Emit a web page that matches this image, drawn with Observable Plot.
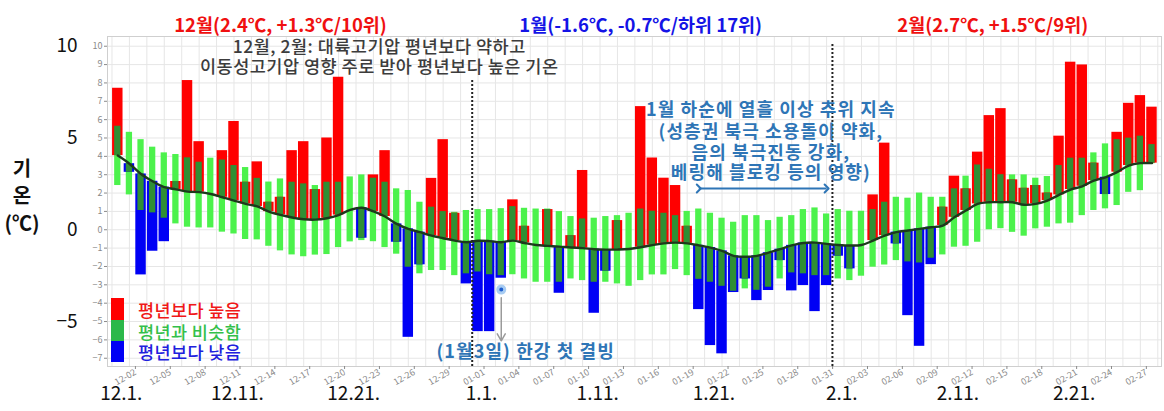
<!DOCTYPE html>
<html><head><meta charset="utf-8">
<script src="https://cdn.jsdelivr.net/npm/d3@7"></script>
<script src="https://cdn.jsdelivr.net/npm/@observablehq/plot@0.6"></script>
<style>
body{margin:0;background:#fff;font-family:"Noto Sans CJK KR","Noto Sans",sans-serif;}
#wrap{position:relative;width:1164px;height:411px;overflow:hidden;}
#wrap svg{position:absolute;left:0;top:0;}
#wrap svg g[fill="#2e75b6"] text{letter-spacing:1.1px;}
#wrap svg g[fill="#3c3c3c"] text{letter-spacing:0.5px;}
.box{position:absolute;width:13px;left:111px;}
.lt{position:absolute;left:138px;font-size:17.5px;font-weight:500;line-height:1;white-space:nowrap;transform:translateY(-50%);letter-spacing:0.4px;}
.yt{position:absolute;left:22px;font-size:20px;font-weight:bold;color:#111;line-height:1;transform:translate(-50%,-50%);}
</style></head><body>
<div id="wrap"></div>
<script>
// ---- categories (days Dec 1 – Feb 28) ----
const fmt = d3.utcFormat("%m-%d");
const dateLabels = d3.utcDay.range(new Date(Date.UTC(2022,11,1)), new Date(Date.UTC(2023,2,1))).map(fmt);

// ---- observed daily mean temperature (°C) ----
const obs = [7.71,3.13,-2.46,-1.17,-0.65,2.63,8.13,4.8,1.95,4.31,5.9,2.59,3.7,1.5,1.77,4.31,4.8,2.19,5.0,8.31,
 1.08,-0.46,2.99,4.31,-0.68,-5.86,-1.91,2.8,4.91,0.9,-2.95,
 -5.55,-5.55,-2.64,1.63,0.19,-0.83,1.1,-3.46,-0.32,3.23,-4.55,-2.26,0.5,-1.05,6.71,3.91,2.81,2.41,0.19,-4.35,
 -6.31,-6.76,-3.42,-2.68,-3.86,-3.31,-1.68,-3.33,-3.04,-4.46,-3.04,
 -1.44,-2.13,-0.83,1.9,4.72,-0.77,-4.68,-6.35,-1.9,1.23,2.92,2.23,4.23,6.22,6.6,2.72,2.26,2.41,2.0,5.1,
 9.13,8.98,3.63,1.92,5.31,6.89,7.31,6.68];
// ---- climatological normal (°C) ----
const normal = [4.04,3.6,3.04,2.64,2.32,2.2,2.08,2.05,1.95,1.77,1.59,1.41,1.27,0.99,0.81,0.67,0.57,0.55,0.63,0.8,
 1.08,1.2,1.0,0.72,0.32,0.05,-0.13,-0.32,-0.46,-0.59,-0.68,
 -0.6,-0.62,-0.68,-0.59,-0.72,-0.83,-0.88,-0.92,-0.97,-1.0,-1.06,-1.08,-1.08,-1.05,-0.95,-0.84,-0.74,-0.7,-0.74,-0.85,
 -0.97,-1.15,-1.42,-1.47,-1.42,-1.25,-1.06,-0.85,-0.72,-0.7,-0.77,
 -0.83,-0.86,-0.83,-0.59,-0.32,-0.13,-0.04,0.05,0.14,0.23,0.68,1.05,1.41,1.5,1.5,1.5,1.36,1.41,1.59,1.9,
 2.19,2.37,2.68,2.86,3.14,3.5,3.63,3.63];
// ---- normal range (similar-to-normal band) ----
const rangeLow = [2.41,1.9,1.05,0.92,0.63,0.32,0.14,0.1,0.1,-0.13,-0.23,-0.53,-0.55,-0.9,-1.15,-1.37,-1.47,-1.38,-1.35,-0.97,
 -0.66,-0.59,-0.65,-0.97,-1.33,-2.04,-2.4,-2.22,-2.22,-2.5,-2.4,
 -2.3,-2.45,-2.5,-2.45,-2.68,-2.86,-2.86,-2.86,-2.68,-2.77,-2.86,-2.86,-2.95,-3.08,-2.77,-2.46,-2.46,-2.17,-2.5,-2.7,
 -2.86,-3.08,-3.35,-3.22,-3.3,-3.13,-2.68,-2.35,-2.4,-2.5,-2.5,
 -2.68,-2.77,-2.53,-2.04,-1.92,-1.68,-1.75,-1.81,-1.55,-1.37,-0.95,-0.9,-0.68,0.0,0.06,-0.14,-0.35,0.05,0.14,0.32,
 0.36,0.77,1.05,1.14,1.32,2.04,2.13,3.6];
const rangeHigh = [5.64,5.31,4.91,4.5,4.19,4.1,3.92,3.68,3.9,3.8,3.5,3.39,2.8,2.6,2.77,2.59,2.5,2.41,2.59,2.59,
 2.88,2.99,2.81,2.59,2.23,2.14,1.5,1.23,0.99,0.95,1.05,
 1.1,1.1,1.15,1.26,1.17,1.13,1.13,0.99,0.72,0.59,0.63,0.72,0.77,0.9,1.13,1.01,0.9,0.77,1.0,1.13,
 0.9,0.63,0.41,0.77,0.77,0.5,0.68,0.77,1.1,1.19,0.86,
 1.1,1.01,1.01,1.1,1.5,1.77,1.72,2.0,1.77,1.77,2.23,2.92,3.53,3.3,3.0,2.99,2.99,2.81,2.9,3.5,
 3.9,3.9,4.19,4.68,4.91,4.99,5.1,4.64];

// ---- labels ----
const bigDateKeys = ["12-01","12-11","12-21","01-01","01-11","01-21","02-01","02-11","02-21"];
const bigDateText = ["12.1.","12.11.","12.21.","1.1.","1.11.","1.21.","2.1.","2.11.","2.21."];
const yBigTicks = [10,5,0,-5];
const ySmallTicks = d3.range(-7,11);
const monthTitles = ["12월(2.4℃, +1.3℃/10위)","1월(-1.6℃, -0.7℃/하위 17위)","2월(2.7℃, +1.5℃/9위)"];
const monthTitleKeys = ["12-15","01-15","02-14"];
const noteGray = ["12월, 2월: 대륙고기압 평년보다 약하고","이동성고기압 영향 주로 받아 평년보다 높은 기온"];
const noteBlue = ["1월 하순에 열흘 이상 추위 지속","(성층권 북극 소용돌이 약화,","음의 북극진동 강화,","베링해 블로킹 등의 영향)"];
const noteRiver = "(1월3일) 한강 첫 결빙";

const idx = s => dateLabels.indexOf(s);
const rows = dateLabels.map((d,i)=>({i, date:d, obs:obs[i], mean:normal[i], lo:rangeLow[i], hi:rangeHigh[i]}));
const overlap = rows.map(d=>{
  const a=Math.min(d.obs,d.mean), b=Math.max(d.obs,d.mean);
  return {i:d.i, y1:Math.max(a,d.lo), y2:Math.min(b,d.hi)};
}).filter(d=>d.y2>d.y1);
const tickIdx = dateLabels.map((d,i)=>i).filter(i=>i%3===1);
const gridXs = d3.range(-0.5, 90, 1.5);
const janB = idx("01-01")-0.5, febB = idx("02-01")-0.5;

const BH = 0.45, GH = 0.27;
const RED="#ff0000", BLUE="#0000f5", GREEN="#4cf24c", DKGREEN="#2f8f34", NOTEBLUE="#2e75b6";
const titleColors = ["#f01010","#1414e6","#f01010"];

const chart = Plot.plot({
  width:1164, height:411,
  marginLeft:107, marginRight:3, marginTop:36, marginBottom:45,
  x:{domain:[-0.886, 89.82]},
  y:{domain:[-7.45, 10.53]},
  style:{fontFamily:'"Noto Sans CJK KR","Noto Sans",sans-serif', background:"transparent"},
  marks:[
    Plot.gridY(ySmallTicks, {stroke:"#e6e6e6", strokeOpacity:1}),
    Plot.gridX(gridXs, {stroke:"#e6e6e6", strokeOpacity:1}),
    Plot.rect(rows, {x1:d=>d.i-GH, x2:d=>d.i+GH, y1:"lo", y2:"hi", fill:GREEN}),
    Plot.rect(rows.filter(d=>d.obs>d.mean), {x1:d=>d.i-BH, x2:d=>d.i+BH, y1:"mean", y2:"obs", fill:RED}),
    Plot.rect(rows.filter(d=>d.obs<d.mean), {x1:d=>d.i-BH, x2:d=>d.i+BH, y1:"mean", y2:"obs", fill:BLUE}),
    Plot.rect(overlap, {x1:d=>d.i-GH, x2:d=>d.i+GH, y1:"y1", y2:"y2", fill:DKGREEN}),
    Plot.line(rows, {x:"i", y:"mean", curve:"catmull-rom", stroke:"#1c3a1c", strokeWidth:2.4}),
    Plot.ruleX([janB], {y1:-7.45, y2:8.2, stroke:"#222", strokeWidth:2, strokeDasharray:"2,2"}),
    Plot.ruleX([febB], {y1:-7.45, y2:10.2, stroke:"#222", strokeWidth:2, strokeDasharray:"2,2"}),
    Plot.frame({stroke:"#cfcfcf"}),
    Plot.axisY(ySmallTicks, {tickSize:3, tickPadding:2, fontSize:9, color:"#8a8a8a", label:null}),
    Plot.axisY(yBigTicks, {tickSize:0, tickPadding:30, fontSize:19, color:"#111", label:null}),
    Plot.axisX(tickIdx, {tickFormat:i=>dateLabels[i], tickRotate:-30, fontSize:9, color:"#8a8a8a", tickSize:3, tickPadding:2, dx:6, label:null}),
    Plot.text(bigDateKeys, {x:d=>idx(d)+0.3, text:(d,i)=>bigDateText[i], frameAnchor:"bottom", dy:33, fontSize:19, fill:"#111"}),
    ...monthTitles.map((t,k)=>Plot.text([t], {x:()=>idx(monthTitleKeys[k])+(k===2?0.3:0), text:d=>d, frameAnchor:"top", dy:-18, fontSize:18.5, fontWeight:"bold", fill:titleColors[k]})),
    Plot.text(noteGray, {x:()=>22.5, y:(d,i)=>[9.93,8.84][i], text:d=>d, fontSize:17.5, fontWeight:500, fill:"#3c3c3c"}),
    Plot.text(noteBlue, {x:()=>56.2, y:(d,i)=>[6.49,5.29,4.15,3.06][i], text:d=>d, fontSize:18, fontWeight:"bold", fill:NOTEBLUE}),
    Plot.link([0], {x1:()=>idx("01-20"), x2:()=>idx("01-31"), y1:()=>2.25, y2:()=>2.25, stroke:NOTEBLUE, strokeWidth:2, markerStart:"arrow", markerEnd:"arrow"}),
    Plot.arrow([0], {x1:()=>idx("01-03"), x2:()=>idx("01-03"), y1:()=>-3.7, y2:()=>-6.05, stroke:"#9a9a9a", strokeWidth:1.5, headLength:8}),
    Plot.dot([0], {x:()=>idx("01-03"), y:()=>-3.26, r:3.5, fill:"#1f5fcf", stroke:"#a8ccf2", strokeWidth:3}),
    Plot.text([noteRiver], {x:()=>35.1, y:()=>-6.69, text:d=>d, fontSize:18, fontWeight:"bold", fill:NOTEBLUE})
  ]
});
const wrap = document.getElementById("wrap");
wrap.appendChild(chart);

// y-axis title and legend
const yt = ["기","온","(℃)"], ytY=[168,195,223];
yt.forEach((t,k)=>{const e=document.createElement("div");e.className="yt";e.style.top=ytY[k]+"px";e.textContent=t;wrap.appendChild(e);});
const legend = [["평년보다 높음",RED,"#f01818"],["평년과 비슷함","#2bb84a","#33c04a"],["평년보다 낮음",BLUE,"#2020dd"]];
const boxTop=[298,320,341], boxH=[22,21,21], txtY=[310,332,352];
legend.forEach(([t,bc,tc],k)=>{
  const b=document.createElement("div");b.className="box";b.style.top=boxTop[k]+"px";b.style.height=boxH[k]+"px";b.style.background=bc;wrap.appendChild(b);
  const e=document.createElement("div");e.className="lt";e.style.top=txtY[k]+"px";e.style.color=tc;e.textContent=t;wrap.appendChild(e);
});
</script>
</body></html>
